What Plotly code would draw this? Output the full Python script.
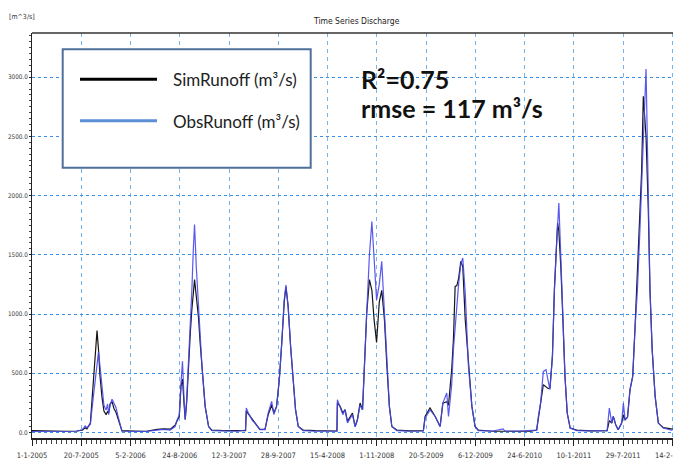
import plotly.graph_objects as go

# ---------------- data ----------------
DATES = [
    "2005-01-01", "2005-02-15", "2005-04-01", "2005-05-20", "2005-07-01", "2005-07-24",
    "2005-08-05", "2005-08-12", "2005-08-26", "2005-09-07", "2005-09-16", "2005-09-22",
    "2005-09-28", "2005-10-04", "2005-10-12", "2005-10-20", "2005-10-29", "2005-11-04",
    "2005-11-08", "2005-11-14", "2005-11-22", "2005-11-30", "2005-12-08", "2005-12-16",
    "2005-12-24", "2006-01-01", "2006-02-20", "2006-04-10", "2006-05-24", "2006-06-20",
    "2006-07-16", "2006-08-05", "2006-08-12", "2006-08-22", "2006-08-29", "2006-09-04",
    "2006-09-10", "2006-09-15", "2006-09-21", "2006-09-28", "2006-10-06", "2006-10-12",
    "2006-10-18", "2006-10-23", "2006-10-30", "2006-11-08", "2006-11-15", "2006-11-22",
    "2006-12-05", "2006-12-19", "2007-01-01", "2007-02-20", "2007-04-15", "2007-05-18",
    "2007-05-21", "2007-05-28", "2007-06-05", "2007-06-15", "2007-06-25", "2007-07-15",
    "2007-08-05", "2007-08-18", "2007-09-01", "2007-09-10", "2007-09-21", "2007-10-02",
    "2007-10-12", "2007-10-22", "2007-10-29", "2007-11-07", "2007-11-17", "2007-11-28",
    "2007-12-07", "2007-12-18", "2008-01-07", "2008-02-25", "2008-04-12", "2008-05-23",
    "2008-05-25", "2008-06-05", "2008-06-16", "2008-06-25", "2008-07-05", "2008-07-16",
    "2008-07-25", "2008-08-05", "2008-08-14", "2008-08-25", "2008-09-04", "2008-09-21",
    "2008-10-02", "2008-10-12", "2008-10-21", "2008-10-31", "2008-11-11", "2008-11-21",
    "2008-12-02", "2008-12-12", "2008-12-22", "2009-01-01", "2009-01-21", "2009-03-15",
    "2009-05-09", "2009-05-16", "2009-06-05", "2009-06-26", "2009-07-16", "2009-07-27",
    "2009-08-12", "2009-08-19", "2009-09-01", "2009-09-08", "2009-09-15", "2009-09-22",
    "2009-09-29", "2009-10-08", "2009-10-16", "2009-10-26", "2009-11-08", "2009-11-22",
    "2009-12-05", "2009-12-18", "2010-02-15", "2010-03-29", "2010-04-05", "2010-06-01",
    "2010-07-20", "2010-08-12", "2010-08-19", "2010-08-28", "2010-09-08", "2010-09-19",
    "2010-09-28", "2010-10-05", "2010-10-15", "2010-10-23", "2010-11-01", "2010-11-05",
    "2010-11-10", "2010-11-18", "2010-11-26", "2010-12-05", "2010-12-14", "2010-12-26",
    "2011-01-22", "2011-03-20", "2011-05-25", "2011-06-03", "2011-06-13", "2011-06-19",
    "2011-06-29", "2011-07-09", "2011-07-23", "2011-07-30", "2011-08-06", "2011-08-16",
    "2011-08-26", "2011-09-06", "2011-09-15", "2011-09-25", "2011-10-06", "2011-10-12",
    "2011-10-19", "2011-10-30", "2011-11-08", "2011-11-15", "2011-11-24", "2011-12-06",
    "2011-12-19", "2012-01-08", "2012-02-10", "2012-03-08", "2012-03-20",
]

SIM_RUNOFF = [
    15, 12, 14, 10, 12, 20,
    40, 30, 80, 400, 700, 860,
    700, 480, 300, 180, 150, 180,
    160, 240, 260, 200, 170, 120,
    50, 15, 12, 10, 25, 30,
    28, 60, 93, 135, 390, 450,
    250, 110, 250, 560, 850, 1036,
    1200, 1290, 1150, 970, 750, 560,
    220, 50, 20, 15, 12, 15,
    180, 160, 135, 110, 79, 25,
    25, 150, 230, 164, 220, 445,
    755, 1100, 1230, 1064, 726, 445,
    192, 50, 20, 15, 12, 12,
    250, 220, 164, 192, 93, 135,
    164, 50, 107, 248, 192, 1008,
    1290, 1200, 950, 760, 1100, 1200,
    950, 557, 220, 50, 20, 14,
    15, 135, 206, 135, 50, 248,
    260, 230, 530, 783, 1233, 1240,
    1300, 1444, 1400, 952, 557, 220,
    50, 20, 10, 10, 10, 8,
    10, 20, 135, 248, 403, 380,
    370, 380, 642, 1205, 1712, 1768,
    1700, 1400, 980, 473, 164, 37,
    20, 14, 15, 100, 79, 135,
    65, 23, 79, 150, 107, 130,
    361, 474, 867, 1318, 1900, 2200,
    2838, 2500, 1900, 1205, 698, 304,
    79, 40, 30, 25, 25,
]

OBS_RUNOFF = [
    8, 8, 7, 9, 10, 22,
    55, 40, 70, 300, 480, 600,
    680, 560, 380, 230, 190, 240,
    150, 230, 280, 240, 210, 140,
    60, 10, 8, 8, 20, 25,
    20, 50, 100, 150, 420, 600,
    300, 107, 280, 560, 900, 1200,
    1550, 1755, 1400, 1036, 780, 560,
    220, 50, 15, 10, 10, 20,
    206, 170, 135, 100, 79, 23,
    23, 164, 262, 150, 220, 445,
    755, 1120, 1245, 1064, 726, 445,
    192, 50, 15, 10, 8, 10,
    276, 220, 150, 192, 80, 120,
    150, 50, 100, 230, 192, 1008,
    1500, 1780, 1500, 1120, 1250, 1444,
    1010, 557, 220, 50, 15, 10,
    12, 120, 190, 135, 50, 248,
    333, 135, 400, 700, 900, 1036,
    1250, 1420, 1473, 1177, 557, 220,
    50, 15, 12, 30, 12, 12,
    14, 20, 135, 248, 515, 530,
    431, 361, 642, 1205, 1600, 1800,
    1937, 1486, 980, 473, 164, 37,
    15, 12, 15, 206, 79, 135,
    65, 23, 79, 248, 107, 130,
    361, 474, 867, 1200, 1750, 2100,
    2600, 3069, 2050, 1205, 698, 304,
    79, 37, 20, 35, 20,
]

TICK_DATES = [
    "2005-01-01", "2005-07-20", "2006-02-05", "2006-08-24", "2007-03-12",
    "2007-09-28", "2008-04-15", "2008-11-01", "2009-05-20", "2009-12-06",
    "2010-06-24", "2011-01-10", "2011-07-29", "2012-02-14",
]
TICK_LABELS = [
    "1-1-2005", "20-7-2005", "5-2-2006", "24-8-2006", "12-3-2007",
    "28-9-2007", "15-4-2008", "1-11-2008", "20-5-2009", "6-12-2009",
    "24-6-2010", "10-1-2011", "29-7-2011", "14-2-2012",
]
Y_TICKS = [0, 500, 1000, 1500, 2000, 2500, 3000]
Y_LABELS = ["0.0", "500.0", "1000.0", "1500.0", "2000.0", "2500.0", "3000.0"]

SERIES_NAMES = ["SimRunoff (m³/s)", "ObsRunoff (m³/s)"]
STATS_LINES = ["R²=0.75", "rmse = 117 m³/s"]

# ---------------- layout helpers ----------------
# The page places the figure 8 px in from the top-left corner (default body margin),
# so the figure is sized to fill the rest of the 681x470 window.
PAGE_OFF = 8
W, H = 681 - PAGE_OFF, 470 - PAGE_OFF
L, R, T, B = 32 - PAGE_OFF, 0, 33 - PAGE_OFF, 32
PW, PH = W - L - R, H - T - B


def px(x):
    """window pixel x -> paper fraction"""
    return (x - PAGE_OFF - L) / PW


def py(y):
    """window pixel y -> paper fraction"""
    return (H - B - (y - PAGE_OFF)) / PH


NARROW = "Liberation Sans Narrow, DejaVu Sans Condensed, Arial Narrow, Liberation Sans, sans-serif"
SIM_COLOR = "#161616"
OBS_COLOR = "#4747ee"

fig = go.Figure()
fig.add_trace(go.Scatter(x=DATES, y=SIM_RUNOFF, mode="lines", name="SimRunoff",
                         line=dict(color=SIM_COLOR, width=1.2), showlegend=False))
fig.add_trace(go.Scatter(x=DATES, y=OBS_RUNOFF, mode="lines", name="ObsRunoff",
                         line=dict(color=OBS_COLOR, width=1.2), opacity=0.9, showlegend=False))

fig.update_layout(
    width=W, height=H,
    margin=dict(l=L, r=R, t=T, b=B, pad=0, autoexpand=False),
    paper_bgcolor="white", plot_bgcolor="white",
    showlegend=False,
    xaxis=dict(
        type="date", range=["2005-01-01", "2012-03-20"],
        automargin=False,
        tickvals=TICK_DATES, ticktext=TICK_LABELS,
        ticks="outside", ticklen=6, tickcolor="#222", tickwidth=1,
        ticklabelstandoff=3, ticklabeloverflow="allow",
        tickfont=dict(family=NARROW, size=7.5, color="#333"),
        showline=True, linecolor="#222", linewidth=1.5,
        showgrid=True, gridcolor="#78b4ee", gridwidth=1, griddash="4px,4px",
        zeroline=False,
        minor=dict(dtick=20 * 86400000, tick0="2005-01-01", ticks="outside",
                   ticklen=4, tickcolor="#444", showgrid=False),
    ),
    yaxis=dict(
        range=[-47, 3373],
        automargin=False,
        tickvals=Y_TICKS, ticktext=Y_LABELS,
        ticks="outside", ticklen=2, tickcolor="#222",
        tickfont=dict(family=NARROW, size=6.3, color="#333"),
        showline=True, linecolor="#222", linewidth=1,
        showgrid=True, gridcolor="#3b8fe4", gridwidth=1.3, griddash="dot",
        zeroline=False,
        minor=dict(dtick=50, tick0=0, ticks="outside", ticklen=2,
                   tickcolor="#444", showgrid=False),
    ),
)

shapes = [
    # top frame line
    dict(type="line", xref="paper", yref="paper", x0=0, x1=1, y0=1, y1=1,
         line=dict(color="#333", width=1.5)),
    # legend box
    dict(type="rect", xref="paper", yref="paper",
         x0=px(62.7), x1=px(310.7), y0=py(167.7), y1=py(49.3),
         fillcolor="white", line=dict(color="#4f6f9b", width=2)),
    # legend line samples
    dict(type="line", xref="paper", yref="paper", x0=px(80), x1=px(157),
         y0=py(79.3), y1=py(79.3), line=dict(color="#000000", width=3)),
    dict(type="line", xref="paper", yref="paper", x0=px(80), x1=px(157),
         y0=py(120.7), y1=py(120.7), line=dict(color="#5b8fd5", width=3)),
]
fig.update_layout(shapes=shapes)

LEG_FONT = dict(family="Lato, Open Sans, sans-serif", size=17, color="#222")
STAT_FONT = dict(family="Lato, Open Sans, sans-serif", size=25, color="#111", weight="bold")
annotations = [
    dict(text=SERIES_NAMES[0], x=px(170.5), y=py(79), xanchor="left", yanchor="middle",
         font=LEG_FONT),
    dict(text=SERIES_NAMES[1], x=px(170.5), y=py(121), xanchor="left", yanchor="middle",
         font=LEG_FONT),
    dict(text=STATS_LINES[0], x=px(359), y=py(79), xanchor="left", yanchor="middle",
         font=STAT_FONT),
    dict(text=STATS_LINES[1], x=px(359), y=py(108), xanchor="left", yanchor="middle",
         font=STAT_FONT),
    dict(text="Time Series Discharge", x=px(356.7), y=py(21), xanchor="center",
         yanchor="middle", font=dict(family=NARROW, size=8.5, color="#222")),
    dict(text="[m^3/s]", x=px(22), y=py(17), xanchor="center", yanchor="middle",
         font=dict(family=NARROW, size=7, color="#333")),
]
for a in annotations:
    a.update(xref="paper", yref="paper", showarrow=False)
fig.update_layout(annotations=annotations)

fig.write_html("out.html")
